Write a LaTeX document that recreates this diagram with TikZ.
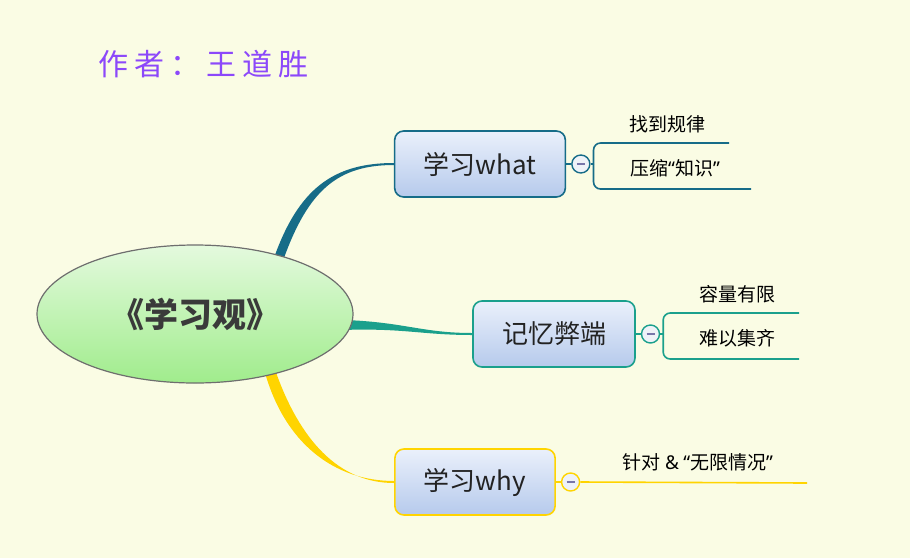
\documentclass[tikz,border=0pt]{standalone}
\usepackage{fontspec}
\setmainfont{Noto Sans CJK SC}
\newfontfamily\latinfont{Noto Sans}
\newfontfamily\authorfont[LetterSpace=20]{Noto Sans CJK SC}
\usetikzlibrary{shapes.geometric,positioning,backgrounds}
\definecolor{paper}{RGB}{250,252,228}
\definecolor{authorink}{RGB}{140,72,250}
\definecolor{ringgray}{RGB}{110,110,110}
\definecolor{rootlight}{RGB}{228,250,222}
\definecolor{rootdark}{RGB}{160,236,140}
\definecolor{rootink}{RGB}{58,58,58}
\definecolor{topiclight}{RGB}{234,240,251}
\definecolor{topicdark}{RGB}{182,202,236}
\definecolor{topicink}{RGB}{34,34,34}
\definecolor{whatline}{RGB}{22,108,136}
\definecolor{memoline}{RGB}{26,160,140}
\definecolor{whyline}{RGB}{255,212,0}
\definecolor{foldfill}{RGB}{238,242,248}
\definecolor{foldmark}{RGB}{120,118,170}
\tikzset{
  central/.style={
    shape = ellipse,
    draw = ringgray,
    line width = 1.2pt,
    top color = rootlight,
    bottom color = rootdark,
    minimum width = 316pt,
    minimum height = 138pt,
    inner sep = 0pt,
    font = \fontsize{34pt}{40pt}\selectfont\bfseries,
    text = rootink
  },
  topic/.style={
    draw,
    line width = 1.6pt,
    rounded corners = 9pt,
    top color = topiclight,
    bottom color = topicdark,
    inner xsep = 29pt,
    minimum height = 66pt,
    font = \fontsize{26pt}{30pt}\selectfont,
    text = topicink
  },
  fold/.style={
    shape = circle,
    draw,
    line width = 1.4pt,
    fill = foldfill,
    minimum size = 18pt,
    inner sep = 0pt,
    path picture={\draw[foldmark, line width=1.5pt]
      ([xshift=-4pt]path picture bounding box.center) --
      ([xshift=4pt]path picture bounding box.center);}
  },
  leaf/.style={
    inner sep = 0pt,
    font = \fontsize{19pt}{22pt}\selectfont
  },
  branch/.style={
    line width = 1.6pt,
    rounded corners = 7pt
  }
}

\begin{document}
\begin{tikzpicture}[x=1pt, y=-1pt]
  \useasboundingbox (0,0) rectangle (910,558);
  \node[text=authorink, font=\fontsize{30pt}{34pt}\authorfont] (author) at (203,64) {作者：王道胜};
  \node[central] (root) at (195,314) {《学习观》};
  % main topics
  \node[topic, draw=whatline] (what) at (480,164) {学习what};
  \node[topic, draw=memoline] (memo) at (554,334) {记忆弊端};
  \node[topic, draw=whyline] (why) at (475,482) {学习why};
  \node[fold, draw=whatline, right=5pt of what] (m1) {};
  \node[fold, draw=memoline, right=5pt of memo] (m2) {};
  \node[fold, draw=whyline, right=5pt of why] (m3) {};
  % leaves
  \node[leaf] (law) at (667,124) {找到规律};
  \node[leaf] (know) at (675,168) {压缩{\latinfont “}知识{\latinfont ”}};
  \node[leaf] (cap) at (737,294) {容量有限};
  \node[leaf] (qi) at (737,338) {难以集齐};
  \node[leaf] (inf) at (698,462) {针对 {\latinfont \&} {\latinfont “}无限情况{\latinfont ”}};
  \coordinate (brk1) at ([xshift=3pt]m1.east);
  \coordinate (brk2) at ([xshift=3pt]m2.east);
  \coordinate (lawend) at (729,143);
  \coordinate (knowend) at (751,189);
  \coordinate (capend) at (799,313);
  \coordinate (qiend) at (799,359);
  \coordinate (infend) at (807,483);

  \begin{scope}[on background layer]
    \fill[paper] (0,0) rectangle (910,558);
    \fill[whatline] ([shift={(-6,5)}]root.35) .. controls +(25,-72) and +(-60,0) .. ([yshift=1pt]what.west)
      -- ([yshift=-1pt]what.west) .. controls +(-56,0) and +(25,-70) .. ([shift={(4,5)}]root.35) -- cycle;
    \fill[memoline] ([shift={(-8,-5)}]root.-4) .. controls +(60,2) and +(-50,0) .. ([yshift=1pt]memo.west)
      -- ([yshift=-1pt]memo.west) .. controls +(-50,0) and +(60,-2) .. ([shift={(-8,5)}]root.-4) -- cycle;
    \fill[whyline] ([shift={(-6,-4)}]root.-39) .. controls +(20,72) and +(-60,0) .. ([yshift=1pt]why.west)
      -- ([yshift=-1pt]why.west) .. controls +(-56,0) and +(24,68) .. ([shift={(5,-4)}]root.-39) -- cycle;
  \end{scope}

  \draw[branch, whatline] (what.east) -- (m1.west);
  \draw[branch, whatline] (m1.east) -- (brk1);
  \draw[branch, whatline] (brk1) |- (lawend);
  \draw[branch, whatline] (brk1) |- (knowend);
  \draw[branch, memoline] (memo.east) -- (m2.west);
  \draw[branch, memoline] (m2.east) -- (brk2);
  \draw[branch, memoline] (brk2) |- (capend);
  \draw[branch, memoline] (brk2) |- (qiend);
  \draw[branch, whyline] (why.east) -- (m3.west);
  \draw[branch, whyline] (m3.east) -- (infend);
\end{tikzpicture}
\end{document}
